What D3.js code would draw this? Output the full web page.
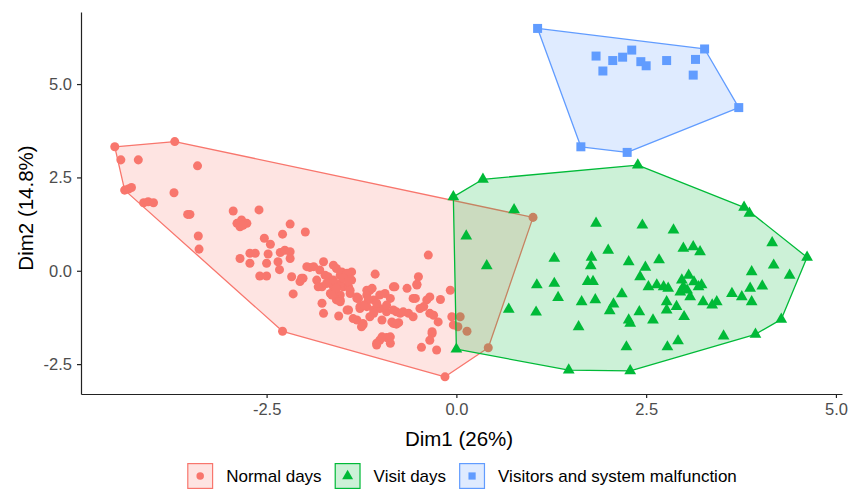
<!DOCTYPE html>
<html><head><meta charset="utf-8">
<script src="https://cdn.jsdelivr.net/npm/d3@7"></script>
<style>
body{margin:0;background:#fff}
text{font-family:"Liberation Sans",Arial,Helvetica,sans-serif}
</style>
</head><body>
<svg id="chart" width="860" height="490"></svg>
<script>
// ---- data ----
const groupNames = ["Normal days", "Visit days", "Visitors and system malfunction"];
const groupColors = ["#F8766D", "#00BA38", "#619CFF"];
const groupShapes = ["circle", "triangle", "square"];

const normalDays = [
[-4.50,3.32],[-3.71,3.46],[-4.42,2.97],[-4.19,2.97],[-3.41,2.81],[-4.37,2.16],[-4.28,2.23],[-4.32,2.19],
[-3.72,2.09],[-4.12,1.82],[-4.06,1.85],[-3.99,1.82],[-3.54,1.51],[-3.51,1.51],[-2.94,1.60],[-2.60,1.63],
[-2.89,1.27],[-2.83,1.36],[-2.76,1.27],[-2.85,1.18],[-2.81,1.22],[-2.19,1.25],[-3.40,0.93],[-3.39,0.58],
[-2.53,0.87],[-2.45,0.71],[-2.29,0.98],[-1.99,1.04],[-2.85,0.33],[-2.72,0.47],[-2.65,0.47],[-2.48,0.45],
[-2.32,0.49],[-2.26,0.55],[-2.19,0.51],[-2.19,0.33],[-2.72,0.20],[-2.50,0.20],[-2.35,0.24],[-2.59,-0.14],
[-2.50,-0.14],[-2.33,0.03],[-2.17,-0.16],[-2.06,-0.29],[-2.02,-0.20],[-2.15,-0.62],[-2.29,-1.62],
[-1.93,0.09],[-1.75,0.24],[-1.80,0.02],[-1.62,0.15],[-1.58,0.06],[-1.38,-0.03],[-1.84,-0.25],[-1.69,-0.16],
[-1.53,-0.12],[-1.42,-0.20],[-1.38,-0.25],[-1.77,-0.43],[-1.62,-0.43],[-1.49,-0.43],[-1.42,-0.43],[-1.66,-0.61],
[-1.53,-0.65],[-1.40,-0.61],[-1.58,-0.78],[-1.07,-0.09],[-1.77,-0.87],[-1.75,-1.14],[-1.55,-1.21],[-1.44,-1.05],
[-1.31,-0.74],[-1.27,-1.01],[-1.18,-0.65],[-1.14,-0.52],[-1.09,-0.78],[-1.01,-0.65],[-0.94,-0.61],[-0.87,-0.74],
[-0.83,-0.43],[-0.65,-0.47],[-0.52,-0.38],[-1.18,-0.96],[-1.09,-1.05],[-1.01,-1.01],[-0.92,-1.10],[-0.79,-1.10],
[-0.74,-1.14],[-0.63,-1.14],[-0.57,-1.23],[-1.31,-1.32],[-1.23,-1.41],[-0.98,-1.32],[-0.83,-1.41],[-0.76,-1.39],
[-0.57,-0.74],[-0.48,-1.01],[-0.39,-0.78],[-0.35,-0.70],[-0.21,-0.77],[-0.35,-1.14],[-0.24,-1.37],[-0.37,0.42],
[-0.08,-0.52],[-0.06,-1.23],[0.05,-1.23],[0.14,-1.62],[-0.04,-1.45],[-0.32,-1.68],[-0.35,-1.86],[-0.46,-2.05],
[-0.26,-2.12],[-1.01,-1.86],[-0.92,-1.79],[-0.87,-1.94],[-1.05,-1.99],[-0.15,-2.84],[0.42,-2.06],[1.01,1.43],
[-1.51,-0.03],[-1.44,-0.07],[-1.82,-0.43],[-1.53,-0.34],[-1.62,-0.65],[-1.53,-0.78],[-1.31,-0.70],[-1.18,-0.52],
[-1.36,-1.28],[-1.27,-0.96],[-1.16,-0.78],[-1.23,-1.45],[-1.09,-1.14],[-1.05,-1.94],[0.02,-1.50],[-0.50,-0.16],
[-0.85,-1.37],
[-1.97,0.11],[-1.88,0.11],[-2.04,-0.20],[-1.73,-0.12],[-1.62,-0.25],[-1.49,-0.20],[-1.42,-0.29],[-1.71,-0.34],
[-1.58,-0.47],[-1.40,-0.52],[-0.81,-0.43],[-0.52,-0.36],[-1.64,-0.65],[-1.53,-0.83],[-1.42,-1.05],[-1.25,-1.50],
[-1.14,-1.23],[-1.29,-0.74],[-1.11,-0.47],[-1.22,-0.92],[-1.05,-0.87],[-0.92,-0.92],[-0.83,-1.05],[-0.70,-1.10],
[-0.54,-0.74],[-0.43,-0.96],[-0.30,-1.19],[-0.79,-1.43],[-0.98,-1.77],[-0.87,-1.77],[-0.32,-1.63]
];

const visitDays = [
[-0.04,1.98],[0.35,2.45],[2.39,2.83],[3.79,1.70],[3.86,1.54],[4.62,0.36],[4.28,-1.30],[3.94,-1.70],
[3.52,-1.75],[2.29,-2.68],[1.48,-2.66],[0.00,-2.10],[0.76,1.63],[0.13,0.93],[0.40,0.13],[0.69,-1.03],
[1.05,-1.11],[1.06,-0.38],[1.29,-0.34],[1.34,-0.72],[1.29,0.33],[1.61,-1.50],[1.84,1.27],[2.45,1.22],
[2.86,1.09],[2.00,0.55],[1.78,0.36],[1.77,0.13],[1.73,-0.29],[1.80,-0.29],[1.65,-0.83],[1.83,-0.78],
[2.07,-0.89],[2.02,-1.07],[2.18,-0.62],[2.27,0.24],[2.49,0.09],[2.67,0.29],[2.42,-0.16],[2.53,-0.43],
[2.64,-0.38],[2.73,-0.43],[2.79,-0.47],[2.27,-1.32],[2.29,-1.41],[2.41,-1.10],[2.59,-1.32],[2.77,-0.83],
[2.77,-1.05],[2.90,-0.96],[3.00,-1.23],[2.99,0.60],[3.12,0.64],[3.21,0.51],[2.97,-0.25],[3.06,-0.12],
[2.99,-0.43],[3.04,-0.52],[3.08,-0.70],[3.19,-0.43],[3.23,-0.38],[3.25,-0.83],[3.37,-0.92],[3.43,-0.83],
[3.63,-0.61],[3.76,-0.70],[3.89,-0.03],[3.87,-0.47],[3.89,-0.83],[4.03,-0.41],[4.16,0.75],[4.18,0.15],
[4.39,-0.12],[2.24,-2.04],[2.78,-2.04],[2.92,-1.88],[3.13,-0.30],[2.95,-0.57]
];

const malfunctionDays = [
[1.07,6.49],[3.27,5.94],[3.72,4.37],[2.25,3.17],[1.64,3.32],[1.84,5.75],[1.93,5.35],[2.06,5.63],
[2.19,5.72],[2.31,5.91],[2.43,5.60],[2.50,5.49],[2.77,5.63],[3.15,5.66],[3.12,5.24]
];

const xTickValues = [-2.5, 0, 2.5, 5];
const yTickValues = [-2.5, 0, 2.5, 5];
const xTitle = "Dim1 (26%)";
const yTitle = "Dim2 (14.8%)";

// ---- drawing ----
const groupData = [normalDays, visitDays, malfunctionDays];
const svg = d3.select("#chart");
const x = d3.scaleLinear().domain([-4.945, 5.08]).range([81, 842]);
const y = d3.scaleLinear().domain([-3.30, 6.93]).range([394, 12]);

const symbolTypes = {circle: d3.symbolCircle, triangle: d3.symbolTriangle, square: d3.symbolSquare};
const plotSizes = {circle: 64, triangle: 60, square: 81};
const keySizes = {circle: 44, triangle: 52, square: 52};

groupData.forEach((pts, i) => {
  const col = groupColors[i];
  const hull = d3.polygonHull(pts.map(p => [x(p[0]), y(p[1])]));
  svg.append("path")
    .attr("d", "M" + hull.join("L") + "Z")
    .attr("fill", col).attr("fill-opacity", 0.2)
    .attr("stroke", col).attr("stroke-width", 1.3)
    .attr("stroke-linejoin", "round");
  const sym = d3.symbol().type(symbolTypes[groupShapes[i]]).size(plotSizes[groupShapes[i]]);
  svg.append("g").selectAll("path").data(pts).join("path")
    .attr("d", sym())
    .attr("transform", d => `translate(${x(d[0])},${y(d[1])})`)
    .attr("fill", col);
});

const fmt = d => d.toFixed(1);
const xAxis = svg.append("g").attr("transform", "translate(0,394)")
  .call(d3.axisBottom(x).tickValues(xTickValues).tickFormat(fmt).tickSize(4).tickSizeOuter(0).tickPadding(5));
const yAxis = svg.append("g").attr("transform", "translate(81,0)")
  .call(d3.axisLeft(y).tickValues(yTickValues).tickFormat(fmt).tickSize(4).tickSizeOuter(0).tickPadding(5));
[xAxis, yAxis].forEach(a => {
  a.select(".domain").attr("stroke", "#222").attr("stroke-width", 1.2);
  a.selectAll(".tick line").attr("stroke", "#222").attr("stroke-width", 1.2);
  a.selectAll(".tick text").attr("fill", "#4D4D4D").style("font-size", "16.5px")
    .style("font-family", '"Liberation Sans",Arial,Helvetica,sans-serif');
});

svg.append("text").attr("x", 459).attr("y", 446).attr("text-anchor", "middle")
  .style("font-size", "20.5px").attr("fill", "#000").text(xTitle);
svg.append("text").attr("transform", "translate(33,208) rotate(-90)").attr("text-anchor", "middle")
  .style("font-size", "20.5px").attr("fill", "#000").text(yTitle);

// legend
const leg = svg.append("g");
const keyW = 26, keyGap = 13, itemGap = 13;
let cx = 0;
groupNames.forEach((name, i) => {
  const g = leg.append("g");
  g.append("rect").attr("x", cx + 0.6).attr("y", 0.6).attr("width", keyW - 1.2).attr("height", keyW - 1.2)
    .attr("fill", groupColors[i]).attr("fill-opacity", 0.2)
    .attr("stroke", groupColors[i]).attr("stroke-width", 1.2);
  const sym = d3.symbol().type(symbolTypes[groupShapes[i]]).size(keySizes[groupShapes[i]]);
  g.append("path").attr("d", sym()).attr("transform", `translate(${cx + keyW / 2},${keyW / 2})`).attr("fill", groupColors[i]);
  const t = g.append("text").attr("x", cx + keyW + keyGap).attr("y", keyW / 2).attr("dy", "0.35em")
    .style("font-size", "17px").attr("fill", "#000").text(name);
  cx += keyW + keyGap + t.node().getComputedTextLength() + itemGap;
});
const legW = cx - itemGap;
leg.attr("transform", `translate(${462 - legW / 2},463)`);
</script>
</body></html>
